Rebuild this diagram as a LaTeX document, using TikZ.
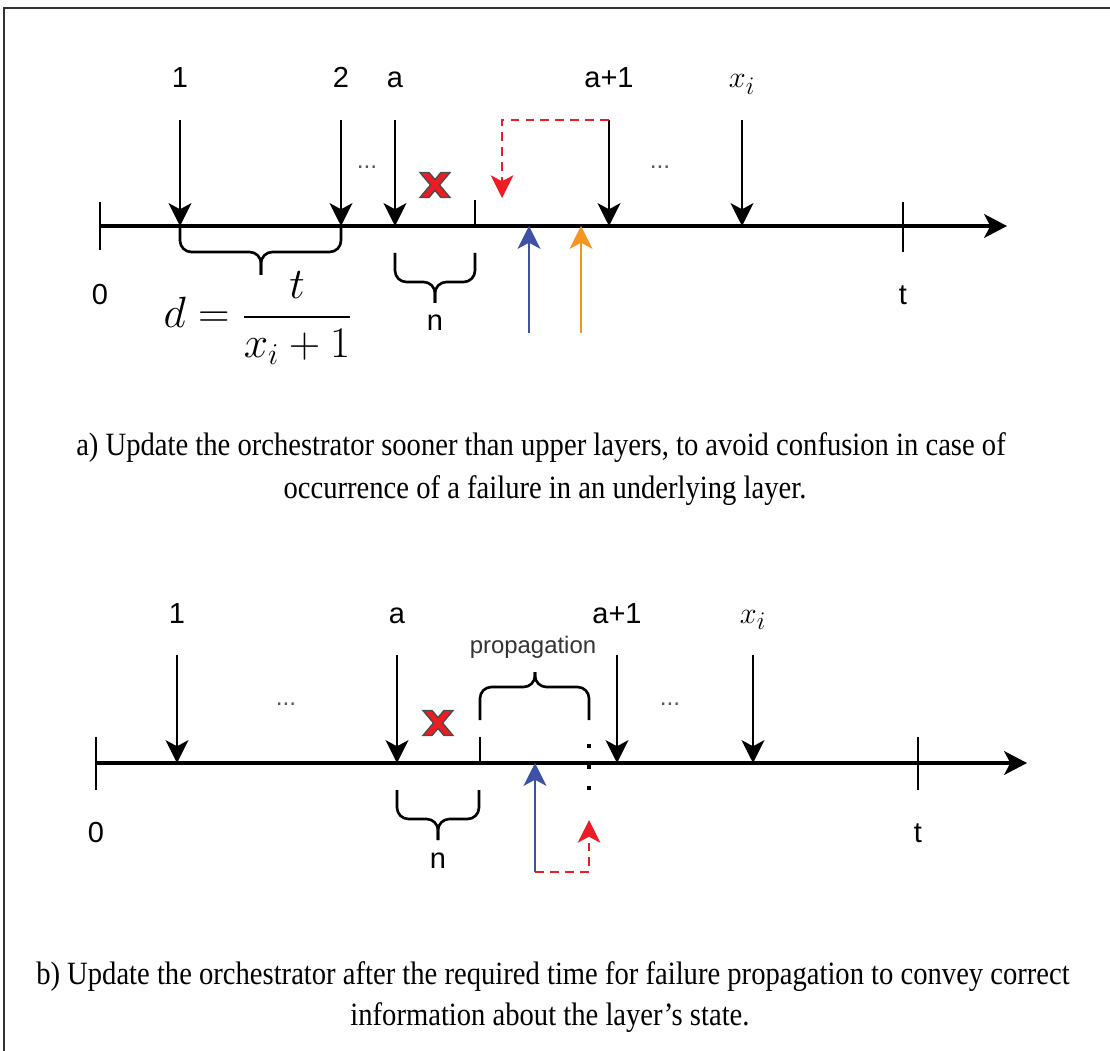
\documentclass[tikz,border=0pt]{standalone}
\usepackage{fontspec}
\setmainfont{Liberation Serif}[FakeStretch=0.88]
\setsansfont{Liberation Sans}
\usepackage{amsmath}
\usetikzlibrary{arrows.meta, positioning, calc}

\definecolor{updblue}{RGB}{62,82,165}
\definecolor{updorange}{RGB}{247,148,30}
\definecolor{failred}{RGB}{237,28,36}

\tikzset{
  frame/.style={line width=0.9pt, black!80},
  timeline/.style={line width=1.8pt, -{Stealth[length=13pt,width=13.5pt,inset=3.5pt]}},
  tickmark/.style={line width=1.5pt},
  event/.style={line width=1.5pt, -{Stealth[length=13pt,width=13pt,inset=3.5pt]}},
  late/.style={line width=1.5pt, failred, dash pattern=on 5pt off 3.5pt,
    -{Stealth[length=13pt,width=13pt,inset=3.5pt,line width=0pt]}},
  halfbrace/.style={line width=1.5pt, rounded corners=6.5pt},
  lbl/.style={font=\sffamily\fontsize{16.5}{18}\selectfont, inner sep=0pt},
  small/.style={font=\sffamily\fontsize{13.6}{15}\selectfont, inner sep=0pt, text=black!80},
  dots/.style={font=\sffamily\fontsize{14}{16}\selectfont, inner sep=0pt, text=black!65},
  caption/.style={font=\fontsize{18.5}{22}\selectfont, inner sep=0pt},
  failx/.pic={
    \filldraw[fill=failred, draw=black!70, line width=0.8pt, line join=miter]
      (-15,-12.5) -- (-6,-12.5) -- (0,-5.4) -- (6,-12.5) -- (15,-12.5) -- (4.5,0)
      -- (15,12.5) -- (6,12.5) -- (0,5.4) -- (-6,12.5) -- (-15,12.5) -- (-4.5,0) -- cycle;
  }
}

\begin{document}
\begin{tikzpicture}[x=0.2mm, y=-0.2mm]
  \useasboundingbox (0,0) rectangle (1110,1051);
  % frame, only top and left edges are visible
  \draw[frame] (1110,8) -- (4,8) -- (4,1051);

  %% a) orchestrator updated early
  \coordinate (a-start) at (100,226);
  \coordinate (a-end) at (1007,226);
  \draw[timeline] (a-start) -- (a-end);
  \draw[tickmark] (100,202) -- (100,250);
  \draw[tickmark] (903,202) -- (903,252);
  \draw[tickmark] (475,200) -- (475,226);
  \node[lbl, anchor=base] (a-zero) at (100,305) {0};
  \node[lbl, anchor=base] (a-t) at (903,305) {t};

  \foreach \x/\txt/\n in {180/1/one, 341/2/two, 395/a/a, 609/a+1/next, 742/{\fontsize{19}{20}\selectfont$x_i$}/xi} {
    \node[lbl, anchor=base] (a-\n) at (\x,88) {\txt};
    \coordinate (a-\n-top) at (\x,120);
    \coordinate (a-\n-hit) at (\x,226);
    \draw[event] (a-\n-top) -- (a-\n-hit);
  }
  \node[dots, anchor=base] (a-dots1) at (367,169) {...};
  \node[dots, anchor=base] (a-dots2) at (660,169) {...};
  \pic at (435,185) {failx};

  % early update: blue, upper layers: orange
  \coordinate (a-blue) at (529,333);
  \coordinate (a-blue-hit) at (529,226);
  \coordinate (a-orange) at (581,333);
  \coordinate (a-orange-hit) at (581,226);
  \draw[event, updblue] (a-blue) -- (a-blue-hit);
  \draw[event, updorange] (a-orange) -- (a-orange-hit);
  \coordinate (a-back) at (502,198);
  \draw[late] (a-next-top) -| (a-back);

  % braces
  \draw[halfbrace] (a-one-hit) |- (261,252) -- (261,275);
  \draw[halfbrace] (a-two-hit) |- (261,252) -- (261,275);
  \draw[halfbrace] (395,253) |- (435,282) -- (435,303);
  \draw[halfbrace] (475,253) |- (435,282) -- (435,303);
  \node[lbl, anchor=base] (a-n) at (435,331) {n};
  \node[font=\fontsize{23.5}{26}\selectfont, inner sep=0pt] (a-d) at (258,318)
    {$\displaystyle d=\frac{t}{x_i+1}$};

  \node[caption, anchor=base] (cap-a1) at (541,455)
    {a) Update the orchestrator sooner than upper layers, to avoid confusion in case of};
  \node[caption, anchor=base] (cap-a2) at (545,498)
    {occurrence of a failure in an underlying layer.};

  %% b) orchestrator updated after propagation
  \coordinate (b-start) at (96,763);
  \coordinate (b-end) at (1027,763);
  \draw[timeline] (b-start) -- (b-end);
  \draw[tickmark] (96,737) -- (96,790);
  \draw[tickmark] (918,737) -- (918,790);
  \draw[tickmark] (480,737) -- (480,763);
  \node[lbl, anchor=base] (b-zero) at (96,842) {0};
  \node[lbl, anchor=base] (b-t) at (918,842) {t};

  \foreach \x/\txt/\n in {177/1/one, 397/a/a, 617/a+1/next, 753/{\fontsize{19}{20}\selectfont$x_i$}/xi} {
    \node[lbl, anchor=base] (b-\n) at (\x,623) {\txt};
    \coordinate (b-\n-top) at (\x,655);
    \coordinate (b-\n-hit) at (\x,763);
    \draw[event] (b-\n-top) -- (b-\n-hit);
  }
  \node[dots, anchor=base] (b-dots1) at (286,705) {...};
  \node[dots, anchor=base] (b-dots2) at (670,705) {...};
  \pic at (438,723) {failx};

  % propagation window
  \draw[halfbrace] (480,720) |- (535,687) -- (535,672);
  \draw[halfbrace] (589,720) |- (535,687) -- (535,672);
  \node[small, anchor=base] (b-prop) at (533,653) {propagation};
  \draw[line width=2.3pt, dash pattern=on 2.3pt off 9.7pt] (589,744) -- (589,792);

  \coordinate (b-blue) at (535,872);
  \coordinate (b-blue-hit) at (535,763);
  \coordinate (b-red-hit) at (589,820);
  \draw[event, updblue] (b-blue) -- (b-blue-hit);
  \draw[late] (b-blue) -| (b-red-hit);

  \draw[halfbrace] (397,790) |- (438,819) -- (438,840);
  \draw[halfbrace] (479,790) |- (438,819) -- (438,840);
  \node[lbl, anchor=base] (b-n) at (438,868) {n};

  \node[caption, anchor=base] (cap-b1) at (553,984)
    {b) Update the orchestrator after the required time for failure propagation to convey correct};
  \node[caption, anchor=base] (cap-b2) at (550,1025)
    {information about the layer’s state.};
\end{tikzpicture}
\end{document}
